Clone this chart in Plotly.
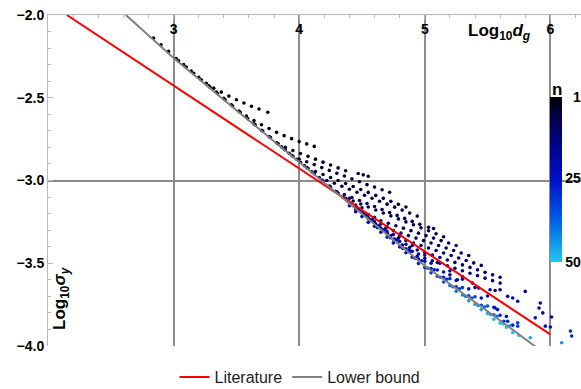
import plotly.graph_objects as go

# ---------------- data ----------------
lit_x = [2.15, 6.0]
lit_y = [-2.0, -3.93]

lb_x = [2.62, 3.0, 3.5, 4.0, 4.5, 5.0, 5.5, 5.91]
lb_y = [-2.0, -2.26, -2.575, -2.89, -3.205, -3.515, -3.79, -4.02]

chain1_x = [2.84, 2.90, 2.96, 3.02, 3.08, 3.14, 3.20, 3.26, 3.32, 3.38, 3.44, 3.50, 3.56, 3.62, 3.68, 3.75]
chain1_y = [-2.14, -2.18, -2.22, -2.263, -2.30, -2.338, -2.376, -2.412, -2.442, -2.466, -2.49, -2.512, -2.532, -2.551, -2.568, -2.588]

chain2_x = [3.04, 3.10, 3.16, 3.22, 3.28, 3.34, 3.40, 3.46, 3.52, 3.58, 3.64, 3.70, 3.76, 3.82, 3.88, 3.94, 4.00, 4.06, 4.12]
chain2_y = [-2.277, -2.315, -2.353, -2.391, -2.428, -2.466, -2.504, -2.542, -2.58, -2.611, -2.638, -2.663, -2.686, -2.709, -2.729, -2.747, -2.765, -2.779, -2.794]

chain3_x = [3.29, 3.35, 3.41, 3.47, 3.53, 3.59, 3.65, 3.71, 3.77, 3.83, 3.89, 3.95, 4.01, 4.07, 4.13, 4.19, 4.25, 4.31, 4.37]
chain3_y = [-2.437, -2.475, -2.512, -2.55, -2.588, -2.626, -2.664, -2.701, -2.74, -2.776, -2.80, -2.819, -2.837, -2.854, -2.871, -2.889, -2.906, -2.924, -2.941]

chain3b_x = [4.47, 4.51, 4.55]
chain3b_y = [-2.958, -2.966, -2.974]

chain4_x = [3.64, 3.70, 3.76, 3.82, 3.88, 3.94, 4.00, 4.06, 4.12, 4.18, 4.24, 4.30, 4.36, 4.42, 4.48, 4.54, 4.60, 4.66, 4.72]
chain4_y = [-2.658, -2.696, -2.734, -2.772, -2.809, -2.847, -2.87, -2.887, -2.904, -2.922, -2.939, -2.956, -2.973, -2.99, -3.008, -3.025, -3.04, -3.056, -3.071]

chain5_x = [3.77, 3.83, 3.89, 3.95, 4.01, 4.07, 4.13, 4.19, 4.25, 4.31, 4.37, 4.43, 4.49, 4.55, 4.61, 4.67, 4.73, 4.79, 4.85]
chain5_y = [-2.74, -2.778, -2.816, -2.854, -2.89, -2.927, -2.946, -2.964, -2.982, -3.0, -3.018, -3.036, -3.054, -3.072, -3.09, -3.108, -3.126, -3.144, -3.16]

chain6_x = [3.86, 3.92, 3.98, 4.04, 4.10, 4.16, 4.22, 4.28, 4.34, 4.40, 4.46, 4.52, 4.58, 4.64, 4.70, 4.76, 4.82, 4.88, 4.94]
chain6_y = [-2.797, -2.835, -2.872, -2.91, -2.947, -2.982, -3.0, -3.017, -3.035, -3.053, -3.071, -3.089, -3.107, -3.125, -3.143, -3.161, -3.179, -3.197, -3.215]

chain7_x = [4.06, 4.12, 4.18, 4.24, 4.30, 4.36, 4.42, 4.48, 4.54, 4.60, 4.66, 4.72, 4.78, 4.84, 4.90, 4.96]
chain7_y = [-2.922, -2.959, -2.997, -3.034, -3.068, -3.085, -3.103, -3.121, -3.139, -3.157, -3.175, -3.193, -3.211, -3.229, -3.247, -3.265]

chain7b_x = [5.03, 5.07]
chain7b_y = [-3.283, -3.29]

chain8_x = [4.19, 4.25, 4.31, 4.37, 4.43, 4.49, 4.55, 4.61, 4.67, 4.73, 4.79, 4.85, 4.91, 4.97, 5.03, 5.09, 5.15]
chain8_y = [-3.003, -3.04, -3.077, -3.108, -3.124, -3.142, -3.16, -3.178, -3.196, -3.214, -3.232, -3.25, -3.268, -3.286, -3.304, -3.322, -3.34]

chain9_x = [4.29, 4.35, 4.41, 4.47, 4.53, 4.59, 4.65, 4.71, 4.77, 4.83, 4.89, 4.95, 5.01, 5.07, 5.13, 5.19, 5.25]
chain9_y = [-3.065, -3.102, -3.139, -3.176, -3.213, -3.228, -3.243, -3.258, -3.273, -3.288, -3.303, -3.318, -3.333, -3.348, -3.363, -3.378, -3.393]

chain10_x = [4.39, 4.45, 4.51, 4.57, 4.63, 4.69, 4.75, 4.81, 4.87, 4.93, 4.99, 5.05, 5.11, 5.17, 5.23, 5.29, 5.35]
chain10_y = [-3.127, -3.164, -3.201, -3.238, -3.273, -3.288, -3.303, -3.318, -3.333, -3.348, -3.363, -3.378, -3.393, -3.408, -3.423, -3.438, -3.453]

chain11_x = [4.49, 4.55, 4.61, 4.67, 4.73, 4.79, 4.85, 4.91, 4.97, 5.03, 5.09, 5.15, 5.21, 5.27, 5.33, 5.39, 5.45]
chain11_y = [-3.189, -3.226, -3.263, -3.30, -3.333, -3.348, -3.363, -3.378, -3.393, -3.408, -3.423, -3.438, -3.453, -3.468, -3.483, -3.498, -3.513]

chain12_x = [4.58, 4.64, 4.70, 4.76, 4.82, 4.88, 4.94, 5.00, 5.06, 5.12, 5.18, 5.24, 5.30, 5.36, 5.42, 5.48, 5.54, 5.60]
chain12_y = [-3.245, -3.282, -3.319, -3.356, -3.39, -3.405, -3.42, -3.435, -3.45, -3.465, -3.48, -3.495, -3.51, -3.525, -3.54, -3.555, -3.57, -3.585]

chain13_x = [4.70, 4.76, 4.82, 4.88, 4.94, 5.00, 5.06, 5.12, 5.18, 5.24, 5.30, 5.36, 5.42, 5.48, 5.54, 5.60]
chain13_y = [-3.319, -3.356, -3.393, -3.431, -3.458, -3.47, -3.485, -3.50, -3.515, -3.53, -3.545, -3.56, -3.575, -3.59, -3.605, -3.62]

chain_n = [1, 2, 3, 5, 5, 6, 7, 8, 9, 9, 10, 11, 12, 13, 15]

# scattered points at the lower right
ex_x = [5.30, 5.38, 5.43, 5.52, 5.56, 5.60, 5.70, 5.74, 5.80, 5.92, 5.91, 5.94, 5.88, 6.01,
        5.96, 6.00, 5.56, 5.58, 5.63, 5.66, 5.74, 5.74, 6.16, 6.17, 5.20, 5.26, 5.66, 5.84, 6.09]
ex_y = [-3.58, -3.62, -3.65, -3.66, -3.665, -3.66, -3.71, -3.73, -3.67, -3.74, -3.77, -3.80, -3.83, -3.825,
        -3.88, -3.885, -3.77, -3.78, -3.85, -3.85, -3.86, -3.88, -3.91, -3.94, -3.57, -3.60, -3.70, -3.95, -3.98]
ex_n = [16, 17, 17, 18, 18, 19, 19, 20, 18, 20, 21, 22, 24, 21,
        26, 25, 22, 24, 30, 28, 32, 34, 30, 29, 17, 18, 20, 46, 44]

# dense band hugging the lower bound
cl_x = [4.40, 4.40, 4.40, 4.45, 4.45, 4.45, 4.50, 4.50, 4.50, 4.55, 4.55, 4.55,
        4.60, 4.60, 4.60, 4.65, 4.65, 4.65, 4.70, 4.70, 4.70, 4.75, 4.75, 4.75,
        4.80, 4.80, 4.80, 4.85, 4.85, 4.85, 4.90, 4.90, 4.90, 4.95, 4.95, 4.95,
        5.00, 5.00, 5.00, 5.05, 5.05, 5.05, 5.10, 5.10, 5.10, 5.15, 5.15, 5.15,
        5.20, 5.20, 5.20, 5.25, 5.25, 5.25, 5.30, 5.30, 5.30, 5.35, 5.35, 5.35,
        5.40, 5.40, 5.40, 5.45, 5.45, 5.45, 5.50, 5.50, 5.50, 5.55, 5.55, 5.55,
        5.60, 5.60, 5.65, 5.65, 5.70, 5.70, 5.75]
cl_y = [-3.108, -3.133, -3.153, -3.149, -3.174, -3.189, -3.165, -3.19, -3.218, -3.206, -3.231, -3.253,
        -3.222, -3.25, -3.277, -3.263, -3.289, -3.313, -3.279, -3.309, -3.342, -3.327, -3.355, -3.377,
        -3.336, -3.368, -3.401, -3.385, -3.412, -3.437, -3.393, -3.428, -3.464, -3.444, -3.475, -3.501,
        -3.45, -3.488, -3.525, -3.50, -3.532, -3.558, -3.496, -3.541, -3.578, -3.553, -3.585, -3.613,
        -3.546, -3.593, -3.635, -3.604, -3.643, -3.669, -3.597, -3.647, -3.692, -3.655, -3.697, -3.727,
        -3.647, -3.702, -3.747, -3.71, -3.754, -3.78, -3.698, -3.758, -3.803, -3.766, -3.811, -3.838,
        -3.814, -3.862, -3.821, -3.886, -3.874, -3.919, -3.937]
cl_n = [14, 17, 19, 15, 18, 20, 15, 18, 21, 16, 19, 22,
        16, 19, 22, 17, 20, 23, 17, 20, 23, 18, 21, 24,
        18, 21, 25, 19, 22, 26, 19, 23, 27, 20, 24, 28,
        20, 25, 30, 21, 26, 32, 21, 27, 34, 22, 28, 36,
        22, 29, 38, 23, 30, 40, 23, 31, 42, 24, 32, 44,
        24, 33, 45, 25, 34, 46, 25, 35, 47, 26, 36, 48,
        27, 49, 27, 49, 28, 50, 50]

cm_x = [4.525, 4.575, 4.625, 4.675, 4.725, 4.775, 4.825, 4.875, 4.925, 4.975, 5.025, 5.075,
        5.125, 5.175, 5.225, 5.275, 5.325, 5.375, 5.425, 5.475, 5.525, 5.575, 5.625, 5.675]
cm_y = [-3.205, -3.24, -3.285, -3.30, -3.345, -3.36, -3.41, -3.42, -3.47, -3.485, -3.53, -3.54,
        -3.585, -3.597, -3.642, -3.655, -3.70, -3.71, -3.755, -3.765, -3.81, -3.82, -3.866, -3.878]
cm_n = [18, 19, 21, 20, 22, 21, 24, 22, 26, 24, 29, 27, 33, 30, 37, 32, 41, 35, 44, 38, 46, 40, 48, 44]

x_ticks = [3, 4, 5, 6]
y_ticks = [-4.0, -3.5, -3.0, -2.5, -2.0]
y_grid = [-4.0, -3.0]
n_ticks = [1, 25, 50]
n_tick_text = ["\u00a0\u00a01", "25", "50"]
n_min, n_max = 1, 50

# ---------------- assemble ----------------
chains = [
    (chain1_x, chain1_y), (chain2_x, chain2_y), (chain3_x, chain3_y), (chain3b_x, chain3b_y),
    (chain4_x, chain4_y), (chain5_x, chain5_y), (chain6_x, chain6_y), (chain7_x, chain7_y),
    (chain7b_x, chain7b_y), (chain8_x, chain8_y), (chain9_x, chain9_y), (chain10_x, chain10_y),
    (chain11_x, chain11_y), (chain12_x, chain12_y), (chain13_x, chain13_y),
]
xs, ys, ns = [], [], []
for (cx, cy), cn in zip(chains, chain_n):
    xs += cx
    ys += cy
    ns += [cn] * len(cx)
xs += ex_x + cl_x + cm_x
ys += ex_y + cl_y + cm_y
ns += ex_n + cl_n + cm_n

# colour bar runs from n=1 at the top to n=50 at the bottom -> plot on -n
neg_n = [-v for v in ns]

FONT = "Liberation Sans"
# scale from cmin (-50, cyan) to cmax (-1, black)
colorscale = [[0.0, "#20c8f0"], [0.25, "#0060e8"], [0.5, "#0010c8"],
              [0.75, "#00007a"], [0.9, "#000040"], [1.0, "#000000"]]

fig = go.Figure()
fig.add_trace(go.Scatter(
    x=xs, y=ys, mode="markers", showlegend=False, hoverinfo="skip",
    marker=dict(size=3.6, color=neg_n, colorscale=colorscale, cmin=-n_max, cmax=-n_min,
                line=dict(width=0), showscale=True,
                colorbar=dict(xref="container", x=550 / 581, xanchor="left", xpad=0,
                              yref="container", y=1 - 114 / 389, yanchor="top", ypad=0,
                              len=165, lenmode="pixels", thickness=12, thicknessmode="pixels",
                              outlinewidth=0, tickvals=[-v for v in n_ticks],
                              ticktext=n_tick_text, ticks="",
                              tickfont=dict(family=FONT, size=14, color="black", weight="bold"),
                              bgcolor="rgba(0,0,0,0)")),
))
fig.add_trace(go.Scatter(x=lit_x, y=lit_y, mode="lines", name="Literature",
                         line=dict(color="#ff0000", width=2), hoverinfo="skip"))
fig.add_trace(go.Scatter(x=lb_x, y=lb_y, mode="lines", name="Lower bound",
                         line=dict(color="#808080", width=2), hoverinfo="skip"))
# empty helper traces so the overlay axes (grid rows, inner tick labels) are drawn
fig.add_trace(go.Scatter(x=[], y=[], yaxis="y2", showlegend=False, hoverinfo="skip"))
fig.add_trace(go.Scatter(x=[], y=[], xaxis="x2", showlegend=False, hoverinfo="skip"))

GRID = "#8c8c8c"
AX = "#b8b8b8"
XR = [2.0, 6.244]
YR = [-4.0, -2.0]
fig.update_layout(
    width=581, height=389,
    margin=dict(l=48, r=0, t=15, b=43, autoexpand=False),
    paper_bgcolor="white", plot_bgcolor="white",
    xaxis=dict(range=XR, side="top", showline=True, linecolor=AX, linewidth=1,
               tickvals=x_ticks, ticks="inside", ticklen=5, tickcolor=AX,
               showticklabels=False,
               showgrid=True, gridcolor=GRID, gridwidth=1.6, zeroline=False,
               minor=dict(dtick=0.2, tick0=2, ticks="inside", ticklen=3, tickcolor=AX, showgrid=False)),
    xaxis2=dict(range=XR, overlaying="x", anchor="free", position=0.988, side="bottom",
                tickvals=x_ticks, ticks="", showline=False, showgrid=False, zeroline=False,
                tickfont=dict(family=FONT, size=14, color="black", weight="bold")),
    yaxis=dict(range=YR, showline=True, linecolor=AX, linewidth=1,
               tickvals=y_ticks, tickformat=".1f", ticks="inside", ticklen=5, tickcolor=AX,
               tickfont=dict(family=FONT, size=14, color="black", weight="bold"),
               showgrid=False, zeroline=False,
               minor=dict(dtick=0.1, tick0=-4, ticks="inside", ticklen=3, tickcolor=AX, showgrid=False)),
    yaxis2=dict(range=YR, overlaying="y", side="left", tickvals=y_grid,
                showticklabels=False, ticks="", showline=False, zeroline=False,
                showgrid=True, gridcolor=GRID, gridwidth=1.6),
    legend=dict(orientation="h", xref="container", x=300 / 581, xanchor="center",
                yref="container", y=1 - 377 / 389, yanchor="middle",
                font=dict(family=FONT, size=16, color="#222222"), bgcolor="rgba(0,0,0,0)"),
    annotations=[
        dict(xref="paper", yref="paper", x=(499 - 48) / 533, y=1 - (32 - 15) / 331,
             xanchor="center", yanchor="middle",
             text="Log<sub>10</sub><i>d</i><sub><i>g</i></sub>", showarrow=False,
             font=dict(family=FONT, size=17, color="black", weight="bold")),
        dict(xref="paper", yref="paper", x=(61 - 48) / 533, y=1 - (298 - 15) / 331,
             xanchor="center", yanchor="middle",
             text="Log<sub>10</sub><i>σ</i><sub><i>y</i></sub>", showarrow=False, textangle=-90,
             font=dict(family=FONT, size=17, color="black", weight="bold")),
        dict(xref="paper", yref="paper", x=(557 - 48) / 533, y=1 - (89 - 15) / 331,
             xanchor="center", yanchor="middle", text="n", showarrow=False,
             font=dict(family=FONT, size=17, color="black", weight="bold")),
    ],
)
fig.write_html("out.html")
